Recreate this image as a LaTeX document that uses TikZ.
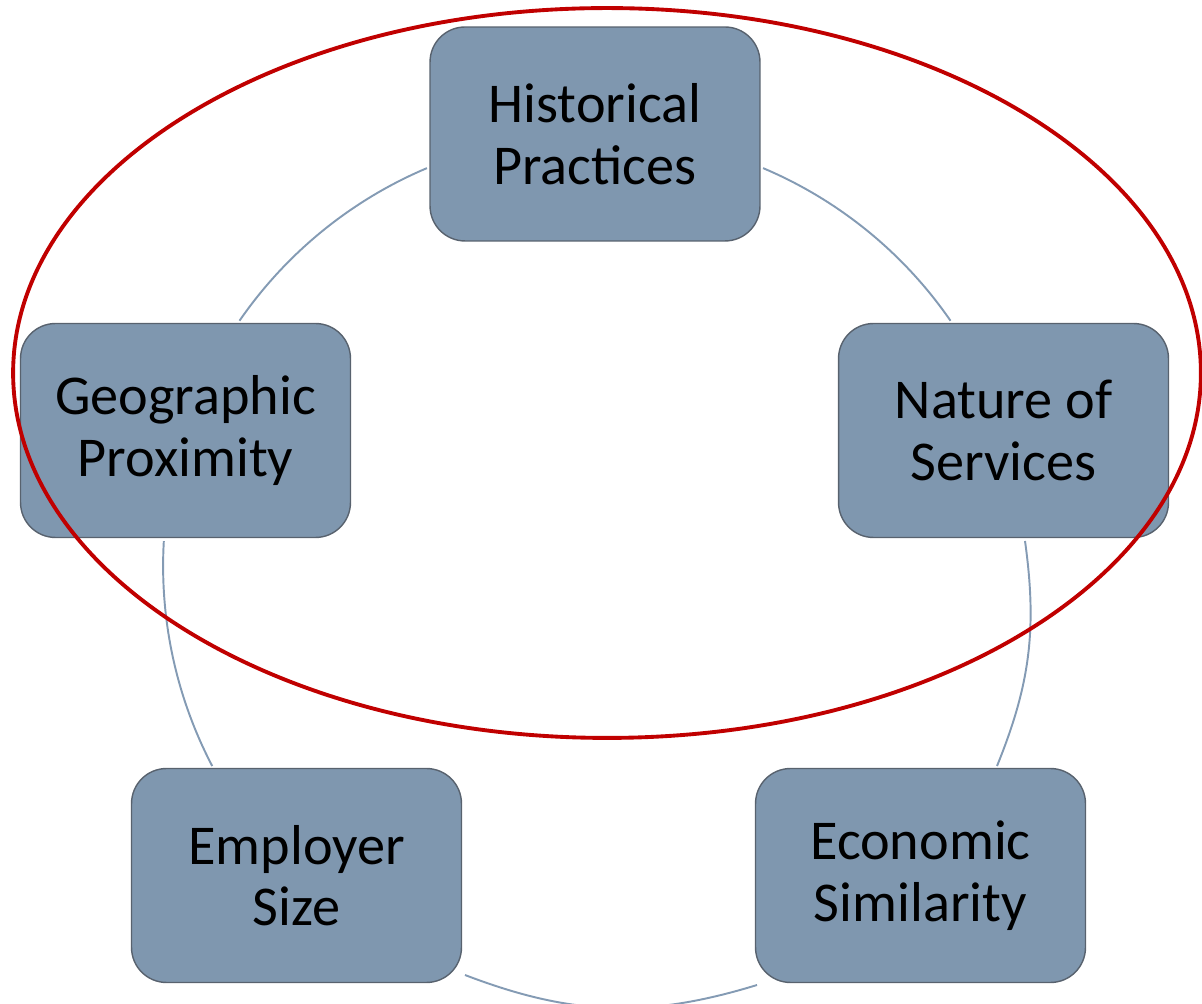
\documentclass[tikz,border=0pt]{standalone}
\usepackage{fontspec}
\setmainfont{Carlito}
\usepackage{tikz}
\usetikzlibrary{positioning}
\definecolor{boxfill}{RGB}{127,151,175}
\definecolor{boxline}{RGB}{88,98,110}
\definecolor{linkcol}{RGB}{132,155,180}
\definecolor{ringred}{RGB}{192,0,0}

\begin{document}
\begin{tikzpicture}[x=0.02cm,y=0.02cm,
factor/.style={draw=boxline,line width=0.8pt,fill=boxfill,rounded corners=0.7cm,
minimum width=6.6cm,minimum height=4.28cm,align=center,
font=\fontsize{32}{35}\selectfont},
link/.style={draw=linkcol,line width=1.1pt}]
\useasboundingbox (0,0) rectangle (1202,1003);
\coordinate (c) at (595,437);
\foreach \a/\b in {67.1/34.6,112.9/145.4,176.7/207.6}
  \draw[link] (c) ++(\a:8.64cm) arc[start angle=\a,end angle=\b,radius=8.64cm];
\coordinate (natS) at (1025,462);
\coordinate (ecoN) at (997,237);
\coordinate (empE) at (465,28);
\coordinate (ecoW) at (757,18);
\draw[link] (natS) to[bend left=15] (ecoN);
\draw[link] (empE) to[bend right=19] (ecoW);
\node[factor] (hist) at (595,869) {Historical\\Practices};
\node[factor] (geo) at (185.5,572.5) {Geographic\\Proximity};
\node[factor] (nat) at (1003.5,572.5) {Nature of\\Services};
\node[factor] (emp) at (296.5,127.5) {Employer\\Size};
\node[factor] (eco) at (920.5,127.5) {Economic\\Similarity};
\draw[ringred,line width=2.2pt] (607,630) ellipse [x radius=11.88cm,y radius=7.3cm];
\end{tikzpicture}
\end{document}
